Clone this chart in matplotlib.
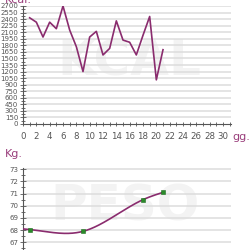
import numpy as np
import matplotlib
matplotlib.use('agg')
import matplotlib.pyplot as plt
from matplotlib.ticker import MultipleLocator, FuncFormatter

# calorie intake per day
kcal_days = list(range(1, 22))
kcal_values = [2430, 2330, 1990, 2330, 2180, 2700, 2150, 1770, 1200, 1990,
               2120, 1580, 1730, 2360, 1920, 1870, 1580, 2030, 2460, 1010, 1700]

# weight measurements
peso_days = [0, 1, 9, 18, 21]
peso_values = [68.1, 68.05, 67.9, 70.5, 71.1]

LINE = '#8a2c6e'
PURPLE = '#9a3f7c'
GRID = '#dcdcdc'
SPINE = '#555555'
TXT = '#555555'
WATERMARK = '#f3f3f3'


def natural_spline(x, y, n=300):
    # smooth curve through the points (natural cubic spline)
    x = np.asarray(x, float)
    y = np.asarray(y, float)
    k = len(x)
    h = np.diff(x)
    A = np.zeros((k, k))
    b = np.zeros(k)
    A[0, 0] = A[-1, -1] = 1
    for i in range(1, k - 1):
        A[i, i - 1] = h[i - 1]
        A[i, i] = 2 * (h[i - 1] + h[i])
        A[i, i + 1] = h[i]
        b[i] = 6 * ((y[i + 1] - y[i]) / h[i] - (y[i] - y[i - 1]) / h[i - 1])
    M = np.linalg.solve(A, b)
    xs = np.linspace(x[0], x[-1], n)
    idx = np.clip(np.searchsorted(x, xs) - 1, 0, k - 2)
    x0, x1 = x[idx], x[idx + 1]
    hh = x1 - x0
    t0, t1 = x1 - xs, xs - x0
    ys = (M[idx] * t0 ** 3 + M[idx + 1] * t1 ** 3) / (6 * hh) \
        + (y[idx] / hh - M[idx] * hh / 6) * t0 \
        + (y[idx + 1] / hh - M[idx + 1] * hh / 6) * t1
    return xs, ys


fig = plt.figure(figsize=(2.5, 2.5), dpi=100)
fig.patch.set_facecolor('white')


def style_axes(ax):
    for s in ['top', 'right']:
        ax.spines[s].set_visible(False)
    ax.spines['left'].set_color(SPINE)
    ax.spines['bottom'].set_color(SPINE)
    ax.spines['left'].set_linewidth(0.8)
    ax.spines['bottom'].set_linewidth(0.8)
    ax.tick_params(which='both', direction='inout', colors=SPINE,
                   labelcolor=TXT, width=0.6, pad=1.5)
    ax.tick_params(which='major', length=4)
    ax.tick_params(which='minor', length=3)


# --- Kcal chart ---
ax1 = fig.add_axes([0.092, 0.504, 0.832, 0.472])
style_axes(ax1)
ax1.set_xlim(0, 31.2)
ax1.set_ylim(0, 2700)
ax1.yaxis.set_major_locator(MultipleLocator(150))
ax1.yaxis.set_minor_locator(MultipleLocator(75))
ax1.xaxis.set_major_locator(MultipleLocator(2))
ax1.xaxis.set_minor_locator(MultipleLocator(1))
ax1.xaxis.set_major_formatter(FuncFormatter(lambda v, p: '%d' % v if v <= 30 else ''))
ax1.tick_params(axis='y', labelsize=5)
ax1.tick_params(axis='x', which='both', length=3, labelsize=6.2, pad=4)
ax1.text(0.51, 0.53, 'KCAL', transform=ax1.transAxes, ha='center', va='center',
         fontsize=36, fontweight='bold', color=WATERMARK, zorder=0)
for v in np.arange(150, 2701, 150):
    ax1.axhline(v, color=GRID, lw=1.1, zorder=1)
ax1.plot(kcal_days, kcal_values, color=LINE, lw=1.2, zorder=3)
fig.text(0.93, 0.452, 'gg.', color=PURPLE, fontsize=8, ha='left', va='center')
fig.text(0.02, 1.0, 'Kcal.', color=PURPLE, fontsize=8, ha='left', va='center')

# --- Peso chart ---
ax2 = fig.add_axes([0.092, 0.0, 0.832, 0.328])
style_axes(ax2)
ax2.spines['bottom'].set_visible(False)
ax2.set_xlim(0, 31.2)
ax2.set_ylim(66.37, 73.1)
ax2.yaxis.set_major_locator(MultipleLocator(1))
ax2.yaxis.set_minor_locator(MultipleLocator(0.5))
ax2.tick_params(axis='y', labelsize=5)
ax2.set_xticks([])
ax2.text(0.49, 0.53, 'PESO', transform=ax2.transAxes, ha='center', va='center',
         fontsize=36, fontweight='bold', color=WATERMARK, zorder=0)
for v in range(67, 74):
    ax2.axhline(v, color=GRID, lw=1.1, zorder=1)
xs, ys = natural_spline(peso_days, peso_values)
ax2.plot(xs, ys, color=LINE, lw=1.2, zorder=3)
ax2.plot(peso_days[1:], peso_values[1:], 's', color='#2a8a2a', ms=2.3,
         mec='#1f6e1f', mew=0.4, zorder=4)
fig.text(0.02, 0.385, 'Kg.', color=PURPLE, fontsize=8, ha='left', va='center')

fig.savefig('out.png', dpi=100, facecolor='white')
